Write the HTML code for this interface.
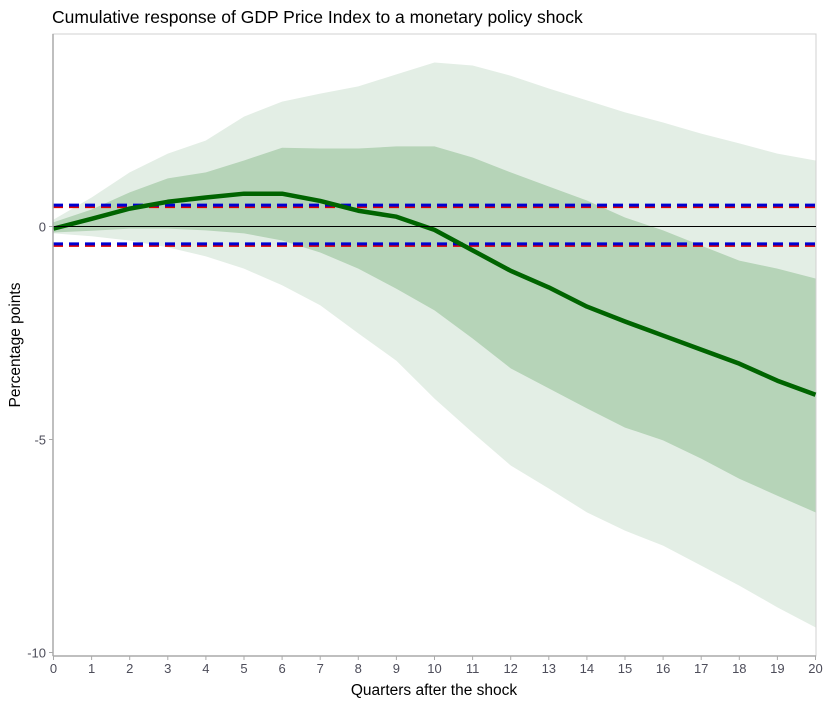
<!DOCTYPE html>
<html><head><meta charset="utf-8"><style>
body{margin:0;background:#fff;font-family:"Liberation Sans",Arial,sans-serif}
</style></head><body>
<svg id="chart" width="823" height="706" xmlns="http://www.w3.org/2000/svg" font-family="Liberation Sans, Arial, sans-serif">
<text x="52" y="23" font-size="17.5" fill="#000">Cumulative response of GDP Price Index to a monetary policy shock</text>
<rect x="53" y="34" width="763" height="622" fill="none" stroke="#d0d0d0" stroke-width="1"/>
<g id="bands"></g>
<g id="lines"></g>
<g id="axes"></g>
<text x="434" y="695" font-size="15.5" text-anchor="middle" fill="#000">Quarters after the shock</text>
<text transform="translate(20,345) rotate(-90)" font-size="15.5" text-anchor="middle" fill="#000">Percentage points</text>
</svg>
<script>
const quarters=[0,1,2,3,4,5,6,7,8,9,10,11,12,13,14,15,16,17,18,19,20];
const median=[-0.05,0.18,0.42,0.58,0.68,0.77,0.77,0.6,0.37,0.23,-0.08,-0.56,-1.04,-1.43,-1.88,-2.23,-2.56,-2.89,-3.22,-3.62,-3.95];
const innerUpper=[0.1,0.4,0.8,1.13,1.27,1.55,1.85,1.83,1.83,1.88,1.88,1.62,1.27,0.94,0.61,0.21,-0.09,-0.45,-0.8,-0.99,-1.22];
const innerLower=[-0.14,-0.1,-0.05,-0.05,-0.09,-0.16,-0.33,-0.61,-0.99,-1.46,-1.97,-2.63,-3.33,-3.8,-4.27,-4.72,-5.02,-5.45,-5.92,-6.32,-6.71];
const outerUpper=[0.16,0.68,1.27,1.71,2.02,2.58,2.93,3.12,3.29,3.57,3.85,3.78,3.54,3.24,2.96,2.68,2.44,2.18,1.95,1.71,1.55];
const outerLower=[-0.16,-0.23,-0.33,-0.49,-0.7,-0.99,-1.38,-1.85,-2.51,-3.15,-4.04,-4.84,-5.61,-6.15,-6.71,-7.14,-7.49,-7.96,-8.43,-8.94,-9.41];
const bandLevels=[0.49,-0.42];
const xTicks=[0,1,2,3,4,5,6,7,8,9,10,11,12,13,14,15,16,17,18,19,20];
const yTicks=[0,-5,-10];

const NS="http://www.w3.org/2000/svg";
const xs=q=>53.5+q*38.1;
const ys=v=>226.5-v*42.6;
function mk(tag,attrs,parent){const e=document.createElementNS(NS,tag);for(const k in attrs)e.setAttribute(k,attrs[k]);parent.appendChild(e);return e;}
function band(up,lo){let p=quarters.map((q,i)=>xs(q)+","+ys(up[i]));for(let i=quarters.length-1;i>=0;i--)p.push(xs(quarters[i])+","+ys(lo[i]));return p.join(" ");}
const bands=document.getElementById('bands');
const ob=mk('polygon',{points:band(outerUpper,outerLower),fill:'#e3eee5'},bands);


const ib=mk('polygon',{points:band(innerUpper,innerLower),fill:'#b6d4b8'},bands);


const lines=document.getElementById('lines');
bandLevels.forEach((v,i)=>{
  const r=mk('line',{x1:53,x2:816,y1:ys(v)+1,y2:ys(v)+1,stroke:'#e00000','stroke-width':3,'stroke-dasharray':'10,6'},lines);
  
  
  const b=mk('line',{x1:53,x2:816,y1:ys(v)-0.5,y2:ys(v)-0.5,stroke:'#0000d0','stroke-width':3,'stroke-dasharray':'10,6'},lines);
  
  
});
const ml=mk('polyline',{points:quarters.map((q,i)=>xs(q)+","+ys(median[i])).join(" "),fill:'none',stroke:'#006400','stroke-width':4.5,'stroke-linejoin':'round'},lines);


const zl=mk('line',{x1:53,x2:816,y1:ys(0),y2:ys(0),stroke:'#000','stroke-width':1},lines);


const ax=document.getElementById('axes');
const xa=mk('line',{x1:53,x2:816,y1:656,y2:656,stroke:'#aaa','stroke-width':1.5},ax);


const ya=mk('line',{x1:53,x2:53,y1:34,y2:656,stroke:'#aaa','stroke-width':1.5},ax);


xTicks.forEach(t=>{
  mk('line',{x1:xs(t),x2:xs(t),y1:656,y2:660,stroke:'#aaa'},ax);
  const tx=mk('text',{x:xs(t),y:673,'font-size':13,'text-anchor':'middle',fill:'#4d4d5a'},ax);
  tx.textContent=t;
  
  
});
yTicks.forEach(t=>{
  mk('line',{x1:49,x2:53,y1:ys(t),y2:ys(t),stroke:'#aaa'},ax);
  const tx=mk('text',{x:46,y:ys(t)+5,'font-size':13,'text-anchor':'end',fill:'#4d4d5a'},ax);
  tx.textContent=t;
  
  
});
</script>
</body></html>
